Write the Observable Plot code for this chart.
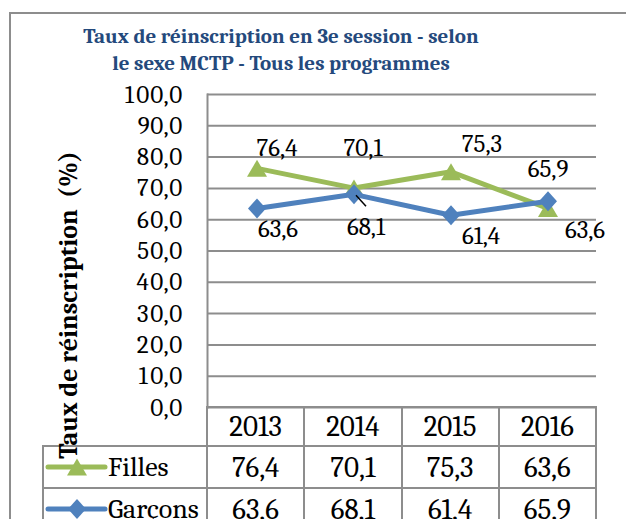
<!DOCTYPE html>
<html><head><meta charset="utf-8">
<script src="https://cdn.jsdelivr.net/npm/d3@7"></script>
<script src="https://cdn.jsdelivr.net/npm/@observablehq/plot@0.6"></script>
<style>
html,body{margin:0;padding:0;background:#fff;}
#wrap{position:relative;width:626px;height:519px;overflow:hidden;font-family:Cambria,Caladea,"Liberation Serif",serif;background:#fff;}
#frame{position:absolute;left:9px;top:12px;width:700px;height:600px;border-left:2px solid #8d8d8d;border-top:2px solid #8d8d8d;}
#title{position:absolute;left:31px;width:500px;top:23px;text-align:center;font-weight:bold;font-size:21px;line-height:27px;color:#24497c;white-space:nowrap;}
#chart{position:absolute;left:0;top:0;z-index:2;pointer-events:none;}
#tbl{position:absolute;left:42px;top:406px;z-index:1;display:grid;grid-template-columns:166px repeat(4,97.25px);grid-template-rows:41px 42px 42px;font-size:29px;color:#000;}
#tbl div{box-sizing:border-box;display:flex;align-items:center;justify-content:center;border:0 solid #8d8d8d;}
#tbl .blank{border-right-width:2px;border-bottom-width:2px;}
#tbl .yr{border-top-width:2px;border-right-width:2px;border-bottom-width:2px;}
#tbl .val{border-right-width:2px;border-bottom-width:2px;}
#tbl .leg{border-left-width:2px;border-right-width:2px;border-bottom-width:2px;justify-content:flex-start;font-size:28px;}
#tbl .leg svg{display:block;flex:none;}
</style>
</head><body>
<div id="wrap">
  <div id="frame"></div>
  <div id="title"></div>
  <div id="tbl"></div>
</div>
<script>
// ---- data ----
const titleLines = ["Taux de réinscription en 3e session - selon", "le sexe MCTP - Tous les programmes"];
const yLabel = "Taux de réinscription \u00a0(%)";
const years = ["2013", "2014", "2015", "2016"];
const seriesNames = ["Filles", "Garçons"];
const filles = [76.4, 70.1, 75.3, 63.6];
const garcons = [63.6, 68.1, 61.4, 65.9];
const yTicks = [0, 10, 20, 30, 40, 50, 60, 70, 80, 90, 100];

// ---- styling ----
const font = 'Cambria, Caladea, "Liberation Serif", serif';
const colors = {"Filles": "#9bbb59", "Garçons": "#4f81bd"};
const grid = "#8d8d8d";
const fmt = v => v.toFixed(1).replace(".", ",");
const triSym = {draw(c) { c.moveTo(0, -8.5); c.lineTo(10, 8.5); c.lineTo(-10, 8.5); c.closePath(); }};
const diaSym = {draw(c) { c.moveTo(0, -10); c.lineTo(9, 0); c.lineTo(0, 10); c.lineTo(-9, 0); c.closePath(); }};
const symbols = {"Filles": triSym, "Garçons": diaSym};
// label nudges (px) per series, per year
const nudges = {
  "Filles": [[20, -20], [9, -40], [31, -28], [37, 22]],
  "Garçons": [[21, 21], [12, 33], [30, 21], [0, -32]]
};

const values = {"Filles": filles, "Garçons": garcons};
const series = seriesNames.map(name => ({
  name,
  data: years.map((year, i) => ({year, serie: name, value: values[name][i]}))
}));

document.getElementById("title").innerHTML = titleLines.join("<br>");

const marks = [
  Plot.ruleY(yTicks, {stroke: grid, strokeWidth: 2}),
  Plot.frame({anchor: "left", stroke: grid, strokeWidth: 2}),
  Plot.text([yLabel], {frameAnchor: "left", rotate: -90, dx: -139, dy: 54, fontWeight: "bold", fontSize: 26, textAnchor: "middle", lineAnchor: "middle", fill: "#000"})
];
for (const s of series) {
  marks.push(Plot.line(s.data, {x: "year", y: "value", stroke: colors[s.name], strokeWidth: 5}));
  marks.push(Plot.dot(s.data, {x: "year", y: "value", symbol: symbols[s.name], r: 8, fill: colors[s.name], stroke: "none"}));
}
// short leader line for the 2014 Garçons label
const lead = series[1].data[1];
marks.push(Plot.link([lead], {x1: "year", x2: "year", y1: "value", y2: "value", stroke: "#000", strokeWidth: 1.5,
  render(index, scales, values, dims, context, next) {
    const g = next(index, scales, values, dims, context);
    d3.select(g).selectAll("path").attr("d", () => {
      const x = values.x1[0], y = values.y1[0];
      return `M${x + 2},${y + 1}L${x + 12},${y + 12}`;
    });
    return g;
  }}));
for (const s of series) {
  s.data.forEach((d, i) => {
    marks.push(Plot.text([d], {x: "year", y: "value", text: d => fmt(d.value), dx: nudges[s.name][i][0], dy: nudges[s.name][i][1], fontSize: 25, fill: "#000", textAnchor: "middle", lineAnchor: "middle"}));
  });
}

const chart = Plot.plot({
  width: 626, height: 519,
  marginLeft: 207, marginRight: 30, marginTop: 94, marginBottom: 112,
  style: {background: "transparent", fontFamily: font, fontSize: "25px", color: "#000", overflow: "visible"},
  x: {type: "band", domain: years, padding: 0, axis: null},
  y: {domain: [0, 100], ticks: yTicks, tickSize: 0, tickPadding: 25, tickFormat: fmt, label: null},
  marks
});
chart.id = "chart";
document.getElementById("wrap").appendChild(chart);

// ---- data table ----
const tbl = document.getElementById("tbl");
const cell = (cls, html) => { const d = document.createElement("div"); d.className = cls; if (html != null) d.innerHTML = html; tbl.appendChild(d); return d; };
cell("blank");
years.forEach(y => cell("yr", y));
for (const s of series) {
  const lg = cell("leg");
  const svg = d3.create("svg").attr("width", 64).attr("height", 24);
  svg.append("line").attr("x1", 4).attr("x2", 61).attr("y1", 12).attr("y2", 12)
    .attr("stroke", colors[s.name]).attr("stroke-width", 5).attr("stroke-linecap", "round");
  svg.append("path").attr("transform", "translate(33,12)").attr("d", d3.symbol(symbols[s.name])()).attr("fill", colors[s.name]);
  lg.appendChild(svg.node());
  const sp = document.createElement("span"); sp.textContent = s.name; lg.appendChild(sp);
  s.data.forEach(d => cell("val", fmt(d.value)));
}
</script>
</body></html>
